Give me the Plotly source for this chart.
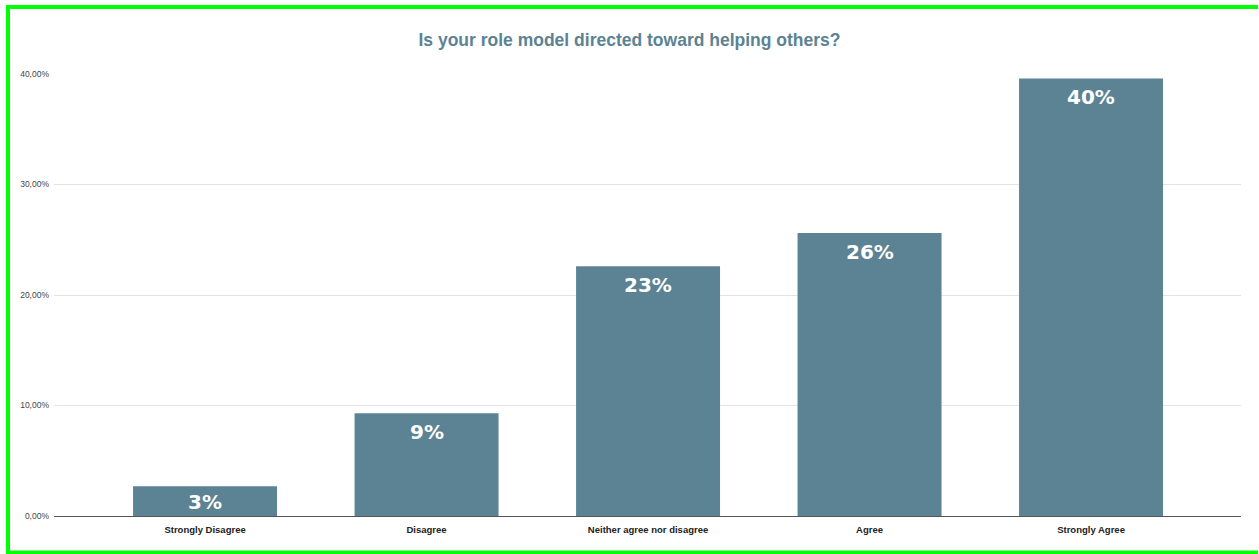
import plotly.graph_objects as go

# Survey responses
categories = ["Strongly Disagree", "Disagree", "Neither agree nor disagree", "Agree", "Strongly Agree"]
shares = [0.027, 0.093, 0.226, 0.256, 0.396]
y_ticks = [0.0, 0.1, 0.2, 0.3, 0.4]

BAR_COLOR = "#5b8394"
TITLE_COLOR = "#5b8394"

W, H = 1259, 554
M_L, M_R, M_T, M_B = 54, 18, 74, 38
PLOT_W = W - M_L - M_R
PLOT_H = H - M_T - M_B


def px_to_paper_x(px):
    return (px - M_L) / PLOT_W


def px_to_paper_y(py):
    return (H - M_B - py) / PLOT_H


fig = go.Figure()
fig.add_trace(go.Bar(
    x=categories,
    y=shares,
    marker=dict(color=BAR_COLOR, line=dict(width=0)),
    width=0.65,
    hoverinfo="x+y",
))

# Percentage labels near the top inside each bar
for cat, v in zip(categories, shares):
    fig.add_annotation(
        x=cat, y=v, xref="x", yref="y",
        text=f"{round(v * 100)}%",
        showarrow=False,
        yanchor="top",
        yshift=-5 if v > 0.05 else -2,
        font=dict(family="DejaVu Sans", size=20, color="white", weight="bold"),
    )

# Green frame: top, left and bottom edges (the right edge runs off the page)
frame = dict(color="#00ff00", width=4)
for (x0, y0, x1, y1) in [(6, 7, W - 1, 7), (8, 5, 8, H + 5), (6, 552.5, W - 1, 552.5)]:
    fig.add_shape(
        type="line", xref="paper", yref="paper",
        x0=px_to_paper_x(x0), x1=px_to_paper_x(x1),
        y0=px_to_paper_y(y0), y1=px_to_paper_y(y1),
        line=frame, layer="above",
    )

fig.update_layout(
    width=W, height=H,
    margin=dict(l=M_L, r=M_R, t=M_T, b=M_B, pad=0),
    paper_bgcolor="white",
    plot_bgcolor="white",
    separators=",.",
    showlegend=False,
    title=dict(
        text="<b>Is your role model directed toward helping others?</b>",
        x=0.5, xref="container", xanchor="center",
        y=1 - 40 / H, yref="container", yanchor="middle",
        font=dict(family="Liberation Sans", size=17.5, color=TITLE_COLOR),
    ),
    xaxis=dict(
        range=[-0.682, 4.677],
        showgrid=False,
        showline=True, linecolor="#555555", linewidth=1,
        ticks="", tickfont=dict(family="Liberation Sans", size=9.5, color="#222222", weight="bold"),
        ticklabelstandoff=5,
        fixedrange=True,
    ),
    yaxis=dict(
        range=[0, 0.4],
        tickvals=y_ticks,
        tickformat=".2%",
        showgrid=True, gridcolor="#e3e3e3", gridwidth=1,
        zeroline=False,
        showline=False,
        ticks="", tickfont=dict(family="Liberation Sans", size=8.5, color="#444444"),
        ticklabelstandoff=4,
        fixedrange=True,
    ),
    bargap=0.35,
)

fig.write_html("out.html")
